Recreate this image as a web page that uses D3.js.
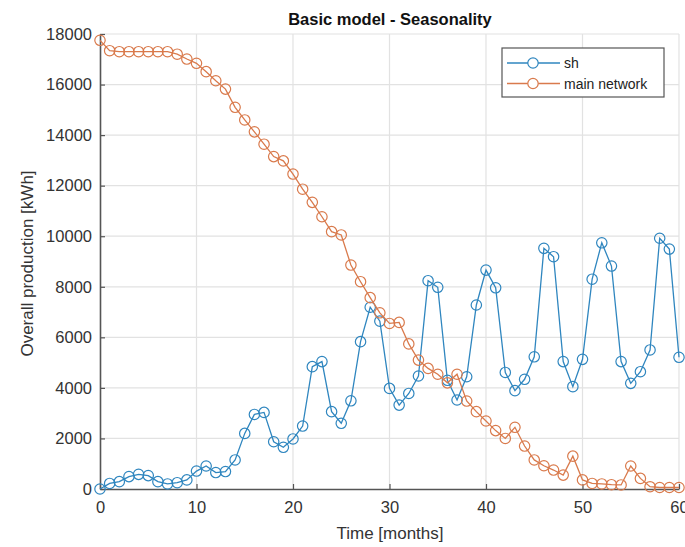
<!DOCTYPE html>
<html>
<head>
<meta charset="utf-8">
<script src="https://cdn.jsdelivr.net/npm/d3@7"></script>
<style>
  body { margin: 0; background: #fff; }
  text { font-family: "Liberation Sans", Arial, sans-serif; }
</style>
</head>
<body>
<div id="chart"></div>
<script>
// values, one per month (0..60)
const months = d3.range(0, 61);
const shValues = [0, 220, 290, 490, 580, 530, 290, 200, 250, 360,
  710, 910, 650, 690, 1150, 2200, 2950, 3030, 1870, 1650,
  1980, 2490, 4840, 5040, 3060, 2600, 3490, 5830, 7190, 6640,
  3980, 3320, 3780, 4470, 8240, 7980, 4300, 3520, 4440, 7280,
  8660, 7960, 4610, 3890, 4340, 5230, 9520, 9190, 5040, 4050,
  5130, 8300, 9740, 8820, 5040, 4180, 4640, 5500, 9920, 9490,
  5210];
const mainValues = [17750, 17340, 17300, 17300, 17300, 17300, 17300, 17300, 17200, 17010,
  16840, 16510, 16150, 15820, 15100, 14600, 14130, 13640, 13150, 12980,
  12460, 11860, 11340, 10770, 10180, 10050, 8860, 8200, 7570, 6970,
  6550, 6590, 5740, 5100, 4770, 4540, 4200, 4540, 3480, 3060,
  2690, 2310, 2000, 2440, 1700, 1150, 920, 750, 550, 1300,
  360, 220, 200, 170, 160, 910, 420, 90, 60, 60,
  60];
const xTicks = [0, 10, 20, 30, 40, 50, 60];
const yTicks = [0, 2000, 4000, 6000, 8000, 10000, 12000, 14000, 16000, 18000];
const seriesNames = ["sh", "main network"];
const seriesColors = ["#2f86bf", "#d97a4c"];

const W = 685, H = 547;
const margin = {top: 34, right: 6, bottom: 58, left: 100};
const width = W - margin.left - margin.right;
const height = H - margin.top - margin.bottom;

const svg = d3.select("#chart").append("svg")
  .attr("width", W)
  .attr("height", H);

const g = svg.append("g")
  .attr("transform", "translate(" + margin.left + "," + margin.top + ")");

const x = d3.scaleLinear().domain([0, 60]).range([0, width]);
const y = d3.scaleLinear().domain([0, 18000]).range([height, 0]);

// grid
g.append("g").selectAll("line")
  .data(xTicks.slice(1))
  .enter().append("line")
  .attr("x1", d => x(d)).attr("x2", d => x(d))
  .attr("y1", 0).attr("y2", height)
  .attr("stroke", "#e2e2e2").attr("stroke-width", 1.2);

g.append("g").selectAll("line")
  .data(yTicks.slice(1))
  .enter().append("line")
  .attr("x1", 0).attr("x2", width)
  .attr("y1", d => y(d)).attr("y2", d => y(d))
  .attr("stroke", "#e2e2e2").attr("stroke-width", 1.2);

// axes (ticks inside like matlab)
const xAxis = g.append("g")
  .attr("transform", "translate(0," + height + ")")
  .call(d3.axisBottom(x).tickValues(xTicks).tickSizeInner(-5).tickSizeOuter(0).tickPadding(12));
const yAxis = g.append("g")
  .call(d3.axisLeft(y).tickValues(yTicks).tickFormat(d3.format("d")).tickSizeInner(-5).tickSizeOuter(0).tickPadding(8));

[xAxis, yAxis].forEach(a => {
  a.select(".domain").attr("stroke", "#555").attr("stroke-width", 1.6);
  a.selectAll(".tick line").attr("stroke", "#555").attr("stroke-width", 1.2);
  a.selectAll(".tick text").attr("fill", "#333").style("font-size", "16.5px")
    .style("font-family", "'Liberation Sans', Arial, sans-serif");
});

// series
const allSeries = [shValues, mainValues];
const line = d3.line()
  .x((d, i) => x(months[i]))
  .y(d => y(d));

allSeries.forEach((vals, k) => {
  g.append("path")
    .datum(vals)
    .attr("d", line)
    .attr("fill", "none")
    .attr("stroke", seriesColors[k])
    .attr("stroke-width", 1.3);

  g.append("g").selectAll("circle")
    .data(vals)
    .enter().append("circle")
    .attr("cx", (d, i) => x(months[i]))
    .attr("cy", d => y(d))
    .attr("r", 5.2)
    .attr("fill", "none")
    .attr("stroke", seriesColors[k])
    .attr("stroke-width", 1.2);
});

// legend
const leg = svg.append("g").attr("transform", "translate(502,48)");
leg.append("rect")
  .attr("width", 162).attr("height", 49)
  .attr("fill", "#fff").attr("stroke", "#555").attr("stroke-width", 1.2);
seriesNames.forEach((name, k) => {
  const ly = 15 + k * 20.5;
  leg.append("line")
    .attr("x1", 5).attr("x2", 58).attr("y1", ly).attr("y2", ly)
    .attr("stroke", seriesColors[k]).attr("stroke-width", 1.3);
  leg.append("circle")
    .attr("cx", 31).attr("cy", ly).attr("r", 5.2)
    .attr("fill", "#fff").attr("stroke", seriesColors[k]).attr("stroke-width", 1.2);
  leg.append("text")
    .attr("x", 62).attr("y", ly + 5)
    .attr("fill", "#222")
    .style("font-size", "14px")
    .text(name);
});

// title and labels
svg.append("text")
  .attr("x", 390).attr("y", 25)
  .attr("text-anchor", "middle")
  .style("font-size", "16.5px").style("font-weight", "bold")
  .attr("fill", "#111")
  .text("Basic model - Seasonality");

svg.append("text")
  .attr("x", 390).attr("y", 539)
  .attr("text-anchor", "middle")
  .style("font-size", "17px")
  .attr("fill", "#333")
  .text("Time [months]");

svg.append("text")
  .attr("transform", "translate(33," + (margin.top + height / 2 + 2) + ") rotate(-90)")
  .attr("text-anchor", "middle")
  .style("font-size", "17px")
  .attr("fill", "#333")
  .text("Overall production [kWh]");
</script>
</body>
</html>
